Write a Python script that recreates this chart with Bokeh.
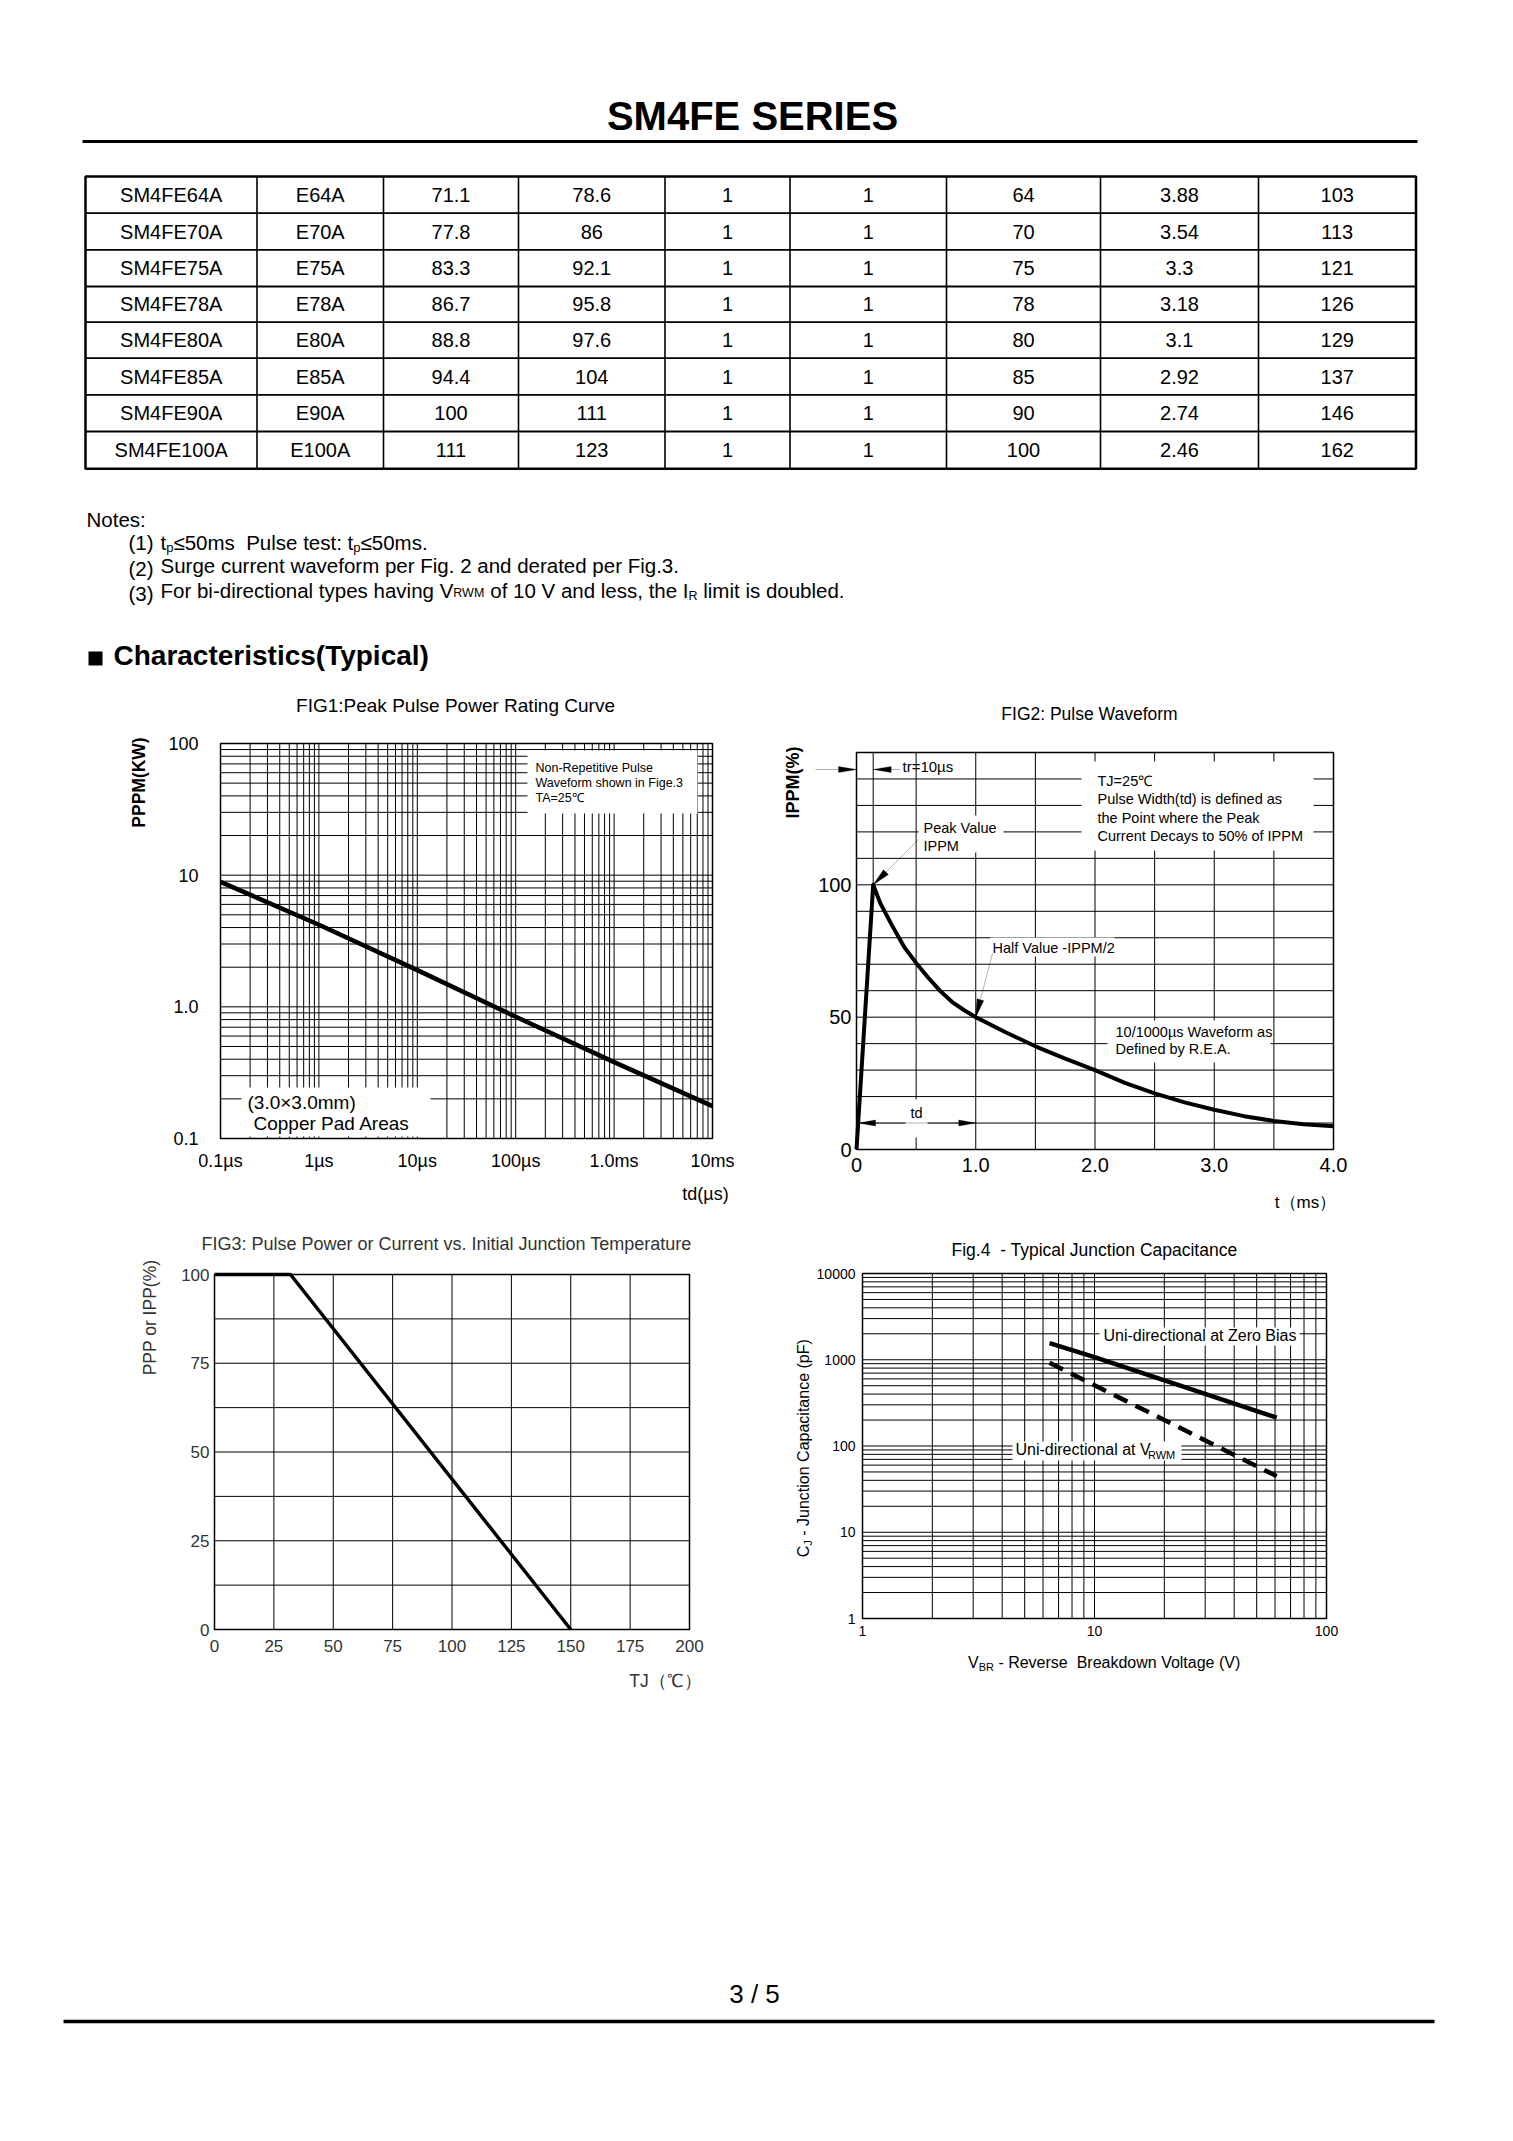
import math
from bokeh.plotting import figure
from bokeh.models import Range1d, FixedTicker, Label, PolyAnnotation
from bokeh.layouts import column, row
from bokeh.core.properties import value
from bokeh.embed import file_html
from bokeh.resources import INLINE

FONT = "Liberation Sans"

# ---------------- data ----------------
part_numbers = ["SM4FE64A", "SM4FE70A", "SM4FE75A", "SM4FE78A", "SM4FE80A", "SM4FE85A", "SM4FE90A", "SM4FE100A"]
marking_codes = ["E64A", "E70A", "E75A", "E78A", "E80A", "E85A", "E90A", "E100A"]
vbr_min_v = ["71.1", "77.8", "83.3", "86.7", "88.8", "94.4", "100", "111"]
vbr_max_v = ["78.6", "86", "92.1", "95.8", "97.6", "104", "111", "123"]
test_current_ma = ["1", "1", "1", "1", "1", "1", "1", "1"]
leakage_ua = ["1", "1", "1", "1", "1", "1", "1", "1"]
vrwm_v = ["64", "70", "75", "78", "80", "85", "90", "100"]
ipp_a = ["3.88", "3.54", "3.3", "3.18", "3.1", "2.92", "2.74", "2.46"]
vc_v = ["103", "113", "121", "126", "129", "137", "146", "162"]

fig1_td_us = [0.1, 1, 10, 100, 1000, 10000]
fig1_pppm_kw = [8.9, 4.2, 1.9, 0.84, 0.38, 0.176]
fig1_x_ticks = [0.1, 1, 10, 100, 1000, 10000]
fig1_x_labels = ["0.1µs", "1µs", "10µs", "100µs", "1.0ms", "10ms"]
fig1_y_ticks = [0.1, 1, 10, 100]
fig1_y_labels = ["0.1", "1.0", "10", "100"]

fig2_t_ms = [0, 0.14, 0.2, 0.3, 0.4, 0.5, 0.6, 0.7, 0.8, 0.9, 1.0, 1.25, 1.5, 1.75, 2.0, 2.25, 2.5, 2.75,
             3.0, 3.25, 3.5, 3.75, 4.0]
fig2_ippm_pct = [0, 100, 93, 84.5, 76.5, 70.5, 65, 60, 55.8, 52.7, 50, 44.3, 39, 34.3, 30, 25.2, 21.2, 17.8,
                 15.0, 12.6, 10.8, 9.5, 8.8]
fig2_x_ticks = [0, 1, 2, 3, 4]
fig2_x_labels = ["0", "1.0", "2.0", "3.0", "4.0"]
fig2_x_minor = [0.5, 1.5, 2.5, 3.5]
fig2_y_ticks = [0, 50, 100]
fig2_y_labels = ["0", "50", "100"]
fig2_y_minor = [10, 20, 30, 40, 60, 70, 80, 90, 110, 120, 130, 140, 150]

fig3_tj_c = [0, 32, 150]
fig3_derating_pct = [100, 100, 0]
fig3_x_ticks = [0, 25, 50, 75, 100, 125, 150, 175, 200]
fig3_x_labels = ["0", "25", "50", "75", "100", "125", "150", "175", "200"]
fig3_y_ticks = [0, 25, 50, 75, 100]
fig3_y_labels = ["0", "25", "50", "75", "100"]
fig3_y_minor = [12.5, 37.5, 62.5, 87.5]

fig4_vbr_zero_v = [6.4, 10, 61]
fig4_cj_zero_pf = [1560, 1070, 213]
fig4_vbr_rwm_v = [6.4, 20, 61]
fig4_cj_rwm_pf = [921, 200, 44.7]
fig4_x_ticks = [1, 10, 100]
fig4_x_labels = ["1", "10", "100"]
fig4_y_ticks = [1, 10, 100, 1000, 10000]
fig4_y_labels = ["1", "10", "100", "1000", "10000"]

# ---------------- helpers ----------------
AW = {' ': 278, '\u00a0': 278, '(': 333, ')': 333, ',': 278, '-': 333, '.': 278, '/': 278, ':': 278,
      '=': 584, '\u2264': 549, '%': 889,
      'A': 667, 'B': 667, 'C': 722, 'D': 722, 'E': 667, 'F': 611, 'G': 778, 'H': 722, 'I': 278, 'J': 500,
      'K': 667, 'L': 556, 'M': 833, 'N': 722, 'O': 778, 'P': 667, 'R': 722, 'S': 667, 'T': 611, 'V': 667,
      'W': 944, 'a': 556, 'b': 556, 'c': 500, 'd': 556, 'e': 556, 'f': 278, 'g': 556, 'h': 556, 'i': 222,
      'k': 500, 'l': 222, 'm': 833, 'n': 556, 'o': 556, 'p': 556, 'r': 333, 's': 500, 't': 278, 'u': 556,
      'v': 500, 'w': 722, 'y': 500}


def tw(s, size):
    return sum(AW.get(c, 556) for c in s) * size / 1000.0


def log_minor(e0, e1):
    return [m * 10.0 ** e for e in range(e0, e1) for m in range(2, 10)]


class Frame:
    """Maps page pixels <-> data for the drawn chart box."""
    def __init__(self, left, top, w, h, xr, yr, xlog=False, ylog=False):
        self.left, self.top, self.w, self.h = left, top, w, h
        self.xr, self.yr, self.xlog, self.ylog = xr, yr, xlog, ylog

    @staticmethod
    def _f(v, r, log):
        if log:
            return (math.log10(v) - math.log10(r[0])) / (math.log10(r[1]) - math.log10(r[0]))
        return (v - r[0]) / (r[1] - r[0])

    @staticmethod
    def _i(f, r, log):
        if log:
            return 10 ** (math.log10(r[0]) + f * (math.log10(r[1]) - math.log10(r[0])))
        return r[0] + f * (r[1] - r[0])

    def dx(self, px):
        return self._i((px - self.left) / self.w, self.xr, self.xlog)

    def dy(self, py):
        return self._i((self.top + self.h - py) / self.h, self.yr, self.ylog)

    def px(self, x):
        return self.left + self._f(x, self.xr, self.xlog) * self.w

    def py(self, y):
        return self.top + self.h - self._f(y, self.yr, self.ylog) * self.h


def make_chart(fr, fl, ft, fw, fh, xt, xminor, xlabels, yt, yminor, ylabels, tsize, tcolor, xstand, ystand):
    p = figure(width=fw, height=fh, min_border=0,
               x_range=Range1d(fr.dx(fl), fr.dx(fl + fw)), y_range=Range1d(fr.dy(ft + fh), fr.dy(ft)),
               x_axis_type="log" if fr.xlog else "linear", y_axis_type="log" if fr.ylog else "linear",
               toolbar_location=None, output_backend="svg", title=None)
    p.outline_line_color = None
    p.grid.visible = False
    p.background_fill_color = "white"
    p.border_fill_color = "white"
    xtk = FixedTicker(ticks=xt, minor_ticks=[])
    ytk = FixedTicker(ticks=yt, minor_ticks=[])
    p.xaxis.ticker = xtk
    p.yaxis.ticker = ytk
    p.xaxis.major_label_overrides = {t: l for t, l in zip(xt, xlabels)}
    p.yaxis.major_label_overrides = {t: l for t, l in zip(yt, ylabels)}
    p.xaxis.fixed_location = fr.yr[0]
    p.yaxis.fixed_location = fr.xr[0]
    p.xaxis.bounds = fr.xr
    p.yaxis.bounds = fr.yr
    for ax in (p.xaxis[0], p.yaxis[0]):
        ax.axis_line_color = None
        ax.major_tick_line_color = None
        ax.minor_tick_line_color = None
        ax.major_tick_out = 0
        ax.major_tick_in = 0
        ax.minor_tick_out = 0
        ax.minor_tick_in = 0
        ax.major_label_text_font = FONT
        ax.major_label_text_font_size = f"{tsize}px"
        ax.major_label_text_color = tcolor
    p.xaxis[0].major_label_standoff = xstand
    p.yaxis[0].major_label_standoff = ystand
    vx = [v for v in list(xt) + list(xminor) if fr.xr[0] < v < fr.xr[1]]
    hy = [v for v in list(yt) + list(yminor) if fr.yr[0] < v < fr.yr[1]]
    p.segment(x0=vx, y0=[fr.yr[0]] * len(vx), x1=vx, y1=[fr.yr[1]] * len(vx), line_color="black", line_width=1)
    p.segment(x0=[fr.xr[0]] * len(hy), y0=hy, x1=[fr.xr[1]] * len(hy), y1=hy, line_color="black", line_width=1)
    return p


def border(p, fr):
    p.quad(left=[fr.xr[0]], right=[fr.xr[1]], bottom=[fr.yr[0]], top=[fr.yr[1]],
           fill_color=None, line_color="black", line_width=1.5)


def lab(p, fr, x, y, s, size, align="left", baseline="middle", style="normal", color="black", angle=0.0):
    p.add_layout(Label(x=fr.dx(x), y=fr.dy(y), text=s, text_font=FONT, text_font_size=f"{size}px",
                       text_align=align, text_baseline=baseline, text_font_style=style,
                       text_color=color, angle=angle))


def wbox(p, fr, l, r, t, b):
    p.quad(left=[fr.dx(l)], right=[fr.dx(r)], top=[fr.dy(t)], bottom=[fr.dy(b)],
           fill_color="white", line_color=None)


def pline(p, fr, xs, ys, width=1):
    p.add_layout(PolyAnnotation(xs=[fr.dx(v) for v in xs], ys=[fr.dy(v) for v in ys],
                                line_color="black", line_width=width, fill_color=None, fill_alpha=0))


def arrow(p, fr, x0, y0, x1, y1, hl=17, hw=6):
    L = math.hypot(x1 - x0, y1 - y0)
    ux, uy = (x1 - x0) / L, (y1 - y0) / L
    bx, by = x1 - ux * hl, y1 - uy * hl
    nx, ny = -uy, ux
    pline(p, fr, [x0, bx], [y0, by])
    hx = [x1, bx + nx * hw / 2, bx - nx * hw / 2]
    hy = [y1, by + ny * hw / 2, by - ny * hw / 2]
    p.add_layout(PolyAnnotation(xs=[fr.dx(v) for v in hx], ys=[fr.dy(v) for v in hy],
                                line_color="black", line_width=1, fill_color="black", fill_alpha=1))


def page_fig(w, h, top):
    p = figure(width=w, height=h, x_range=Range1d(0, w), y_range=Range1d(top + h, top),
               x_axis_location=None, y_axis_location=None, toolbar_location=None,
               output_backend="svg", title=None, min_border=0)
    p.outline_line_color = None
    p.grid.visible = False
    p.background_fill_color = "white"
    p.border_fill_color = "white"
    return p


def ptext(p, x, y, s, size, align="left", baseline="middle", style="normal", color="black"):
    p.text(x=[x], y=[y], text=[s], text_font=value(FONT), text_font_size=f"{size}px",
           text_align=align, text_baseline=baseline, text_font_style=style, text_color=color)


def prun(p, x, yc, parts):
    for s, size, dy in parts:
        ptext(p, x, yc + dy, s, size)
        x += tw(s, size)


PAGE_W = 1505
HDR_H = 680
ROW1_TOP, ROW1_H = 680, 535
ROW2_TOP, ROW2_H = 1215, 485
FTR_TOP, FTR_H = 1700, 330
LEFT_W = 770
RIGHT_W = PAGE_W - LEFT_W

# ---------------- header ----------------
hdr = page_fig(PAGE_W, HDR_H, 0)
ptext(hdr, 752, 115, "SM4FE SERIES", 40, align="center", style="bold")
hdr.segment(x0=[82], y0=[141], x1=[1417], y1=[141], line_color="black", line_width=3)

col_edges = [85, 256.5, 383, 518, 664.5, 789.5, 946, 1100, 1258, 1415.5]
row_edges = [176, 212.7, 249.3, 286, 321.7, 357.7, 394.3, 431, 468.3]
table_cols = [part_numbers, marking_codes, vbr_min_v, vbr_max_v, test_current_ma, leakage_ua, vrwm_v, ipp_a, vc_v]
tx, ty, tt = [], [], []
for ci, col in enumerate(table_cols):
    for ri, v in enumerate(col):
        tx.append((col_edges[ci] + col_edges[ci + 1]) / 2)
        ty.append((row_edges[ri] + row_edges[ri + 1]) / 2)
        tt.append(v)
hdr.text(x=tx, y=ty, text=tt, text_font=value(FONT), text_font_size="20px",
         text_align="center", text_baseline="middle", text_color="black")
inner_v = col_edges[1:-1]
inner_h = row_edges[1:-1]
hdr.segment(x0=inner_v, y0=[row_edges[0]] * len(inner_v), x1=inner_v, y1=[row_edges[-1]] * len(inner_v),
            line_color="black", line_width=1.6)
hdr.segment(x0=[col_edges[0]] * len(inner_h), y0=inner_h, x1=[col_edges[-1]] * len(inner_h), y1=inner_h,
            line_color="black", line_width=1.8)
hdr.quad(left=[col_edges[0]], right=[col_edges[-1]], top=[row_edges[0]], bottom=[row_edges[-1]],
         fill_color=None, line_color="black", line_width=2.5)

NF = 20.5
SUB = 13
ptext(hdr, 86, 519, "Notes:", NF)
ptext(hdr, 128, 542, "(1)", NF)
prun(hdr, 160, 542, [("t", NF, 0), ("p", SUB, 5), ("\u226450ms\u00a0\u00a0Pulse test: t", NF, 0),
                     ("p", SUB, 5), ("\u226450ms.", NF, 0)])
ptext(hdr, 128, 568, "(2)", NF)
prun(hdr, 160, 565, [("Surge current waveform per Fig. 2 and derated per Fig.3.", NF, 0)])
ptext(hdr, 128, 593, "(3)", NF)
prun(hdr, 160, 590, [("For bi-directional types having V", NF, 0), ("RWM", 12.5, 2),
                     ("\u00a0of 10 V and less, the I", NF, 0), ("R", 12.5, 5),
                     ("\u00a0limit is doubled.", NF, 0)])
hdr.quad(left=[88], right=[102], top=[651], bottom=[665], fill_color="black", line_color=None)
ptext(hdr, 113, 655, "Characteristics(Typical)", 28, style="bold")

# ---------------- FIG1 ----------------
fr1 = Frame(220, 743, 492, 395, (0.1, 10000), (0.1, 100), xlog=True, ylog=True)
p1 = make_chart(fr1, 0, ROW1_TOP, LEFT_W, ROW1_H, fig1_x_ticks, log_minor(-1, 4), fig1_x_labels,
                fig1_y_ticks, log_minor(-1, 2), fig1_y_labels, 18, "black", 12, 22)
wbox(p1, fr1, 527, 697, 750, 813)
wbox(p1, fr1, 241, 430, 1087, 1136)
border(p1, fr1)
p1.line(fig1_td_us, fig1_pppm_kw, line_color="black", line_width=4.5)
lab(p1, fr1, 455, 705, "FIG1:Peak Pulse Power Rating Curve", 19, align="center")
lab(p1, fr1, 138, 782, "PPPM(KW)", 17.5, align="center", style="bold", angle=math.pi / 2)
lab(p1, fr1, 705, 1193, "td(µs)", 18, align="center")
lab(p1, fr1, 535, 767, "Non-Repetitive Pulse", 12.5)
lab(p1, fr1, 535, 782, "Waveform shown in Fige.3", 12.5)
lab(p1, fr1, 535, 797, "TA=25\u2103", 12.5)
lab(p1, fr1, 247, 1102, "(3.0\u00d73.0mm)", 19)
lab(p1, fr1, 253, 1123, "Copper Pad Areas", 19)

# ---------------- FIG2 ----------------
fr2 = Frame(856, 752, 477, 397, (0, 4), (0, 150))
p2 = make_chart(fr2, LEFT_W, ROW1_TOP, RIGHT_W, ROW1_H, fig2_x_ticks, fig2_x_minor, fig2_x_labels,
                fig2_y_ticks, fig2_y_minor, fig2_y_labels, 20, "black", 8, 5)
t_peak = fig2_t_ms[1]
p2.segment(x0=[t_peak], y0=[fig2_ippm_pct[1]], x1=[t_peak], y1=[fr2.yr[1]], line_color="black", line_width=1)
wbox(p2, fr2, 1081, 1313, 761, 850)
wbox(p2, fr2, 918, 1003, 815, 852)
wbox(p2, fr2, 990, 1114, 937, 956)
wbox(p2, fr2, 1107, 1270, 1020, 1062)
wbox(p2, fr2, 905, 927, 1099, 1137)
border(p2, fr2)
p2.line(fig2_t_ms, fig2_ippm_pct, line_color="black", line_width=4, line_join="round")
lab(p2, fr2, 1089, 713, "FIG2: Pulse Waveform", 17.5, align="center")
lab(p2, fr2, 792.5, 782, "IPPM(%)", 18, align="center", style="bold", angle=math.pi / 2)
lab(p2, fr2, 1305, 1202, "t\uff08ms\uff09", 17, align="center")
ytr = 769
arrow(p2, fr2, 815, ytr, fr2.px(0), ytr, hl=18, hw=6)
arrow(p2, fr2, 900, ytr, fr2.px(t_peak), ytr, hl=18, hw=6)
lab(p2, fr2, 902, 766, "tr=10µs", 15)
lab(p2, fr2, 923, 827, "Peak Value", 14.5)
lab(p2, fr2, 923, 845, "IPPM", 14.5)
arrow(p2, fr2, 918, 839, fr2.px(t_peak), fr2.py(100), hl=18, hw=7)
lab(p2, fr2, 1097, 780, "TJ=25\u2103", 14.5)
lab(p2, fr2, 1097, 798, "Pulse Width(td) is defined as", 14.5)
lab(p2, fr2, 1097, 817, "the Point where the Peak", 14.5)
lab(p2, fr2, 1097, 835, "Current Decays to 50% of IPPM", 14.5)
lab(p2, fr2, 992, 947, "Half Value -IPPM/2", 14.5)
arrow(p2, fr2, 992, 953, fr2.px(1.0), fr2.py(50), hl=18, hw=7)
lab(p2, fr2, 1115, 1031, "10/1000µs Waveform as", 14.5)
lab(p2, fr2, 1115, 1048, "Defined by R.E.A.", 14.5)
y10 = fr2.py(10)
lab(p2, fr2, 916, 1112, "td", 14.5, align="center")
pline(p2, fr2, [876, 957], [y10, y10])
arrow(p2, fr2, 878, y10, fr2.px(0) + 2, y10, hl=17, hw=6)
arrow(p2, fr2, 955, y10, fr2.px(1.0), y10, hl=17, hw=6)

# ---------------- FIG3 ----------------
GRAY = "#333333"
fr3 = Frame(214, 1274, 475, 355, (0, 200), (0, 100))
p3 = make_chart(fr3, 0, ROW2_TOP, LEFT_W, ROW2_H, fig3_x_ticks, [], fig3_x_labels,
                fig3_y_ticks, fig3_y_minor, fig3_y_labels, 17, GRAY, 10, 5)
border(p3, fr3)
p3.line(fig3_tj_c, fig3_derating_pct, line_color="black", line_width=3.5)
lab(p3, fr3, 446, 1243, "FIG3: Pulse Power or Current vs. Initial Junction Temperature", 18,
    align="center", color=GRAY)
lab(p3, fr3, 149, 1317, "PPP or IPP(%)", 17.5, align="center", color=GRAY, angle=math.pi / 2)
lab(p3, fr3, 665, 1680, "TJ\uff08\u2103\uff09", 17.5, align="center", color=GRAY)

# ---------------- FIG4 ----------------
fr4 = Frame(862, 1273, 464, 345, (1, 100), (1, 10000), xlog=True, ylog=True)
p4 = make_chart(fr4, LEFT_W, ROW2_TOP, RIGHT_W, ROW2_H, fig4_x_ticks, log_minor(0, 2), fig4_x_labels,
                fig4_y_ticks, log_minor(0, 4), fig4_y_labels, 14, "black", 7, 7)
wbox(p4, fr4, 1099, 1299, 1327, 1345)
wbox(p4, fr4, 1012, 1181, 1441, 1460)
border(p4, fr4)
p4.line(fig4_vbr_zero_v, fig4_cj_zero_pf, line_color="black", line_width=4.5)
p4.line(fig4_vbr_rwm_v, fig4_cj_rwm_pf, line_color="black", line_width=4.5, line_dash="15 9")
lab(p4, fr4, 1094, 1249, "Fig.4 \u00a0- Typical Junction Capacitance", 17.5, align="center")
lab(p4, fr4, 1103, 1335, "Uni-directional at Zero Bias", 16)
x0 = 1015
lab(p4, fr4, x0, 1449, "Uni-directional at V", 16)
lab(p4, fr4, x0 + tw("Uni-directional at V", 16), 1454, "RWM", 11)
xl = 967.5
lab(p4, fr4, xl, 1662, "V", 16)
xl += tw("V", 16)
lab(p4, fr4, xl, 1666, "BR", 11)
xl += tw("BR", 11)
lab(p4, fr4, xl, 1662, "\u00a0- Reverse\u00a0\u00a0Breakdown Voltage (V)", 16)
yl = 1556.7
lab(p4, fr4, 803, yl, "C", 16, angle=math.pi / 2)
yl -= tw("C", 16)
lab(p4, fr4, 807, yl, "J", 11, angle=math.pi / 2)
yl -= tw("J", 11)
lab(p4, fr4, 803, yl, "\u00a0- Junction Capacitance (pF)", 16, angle=math.pi / 2)

# ---------------- footer ----------------
ftr = page_fig(PAGE_W, FTR_H, FTR_TOP)
ptext(ftr, 754, 1993, "3 / 5", 26, align="center")
ftr.segment(x0=[63], y0=[2021], x1=[1434], y1=[2021], line_color="black", line_width=3.5)

layout = column(hdr, row(p1, p2), row(p3, p4), ftr)
open("out.html", "w").write(file_html(layout, INLINE, "SM4FE SERIES"))
